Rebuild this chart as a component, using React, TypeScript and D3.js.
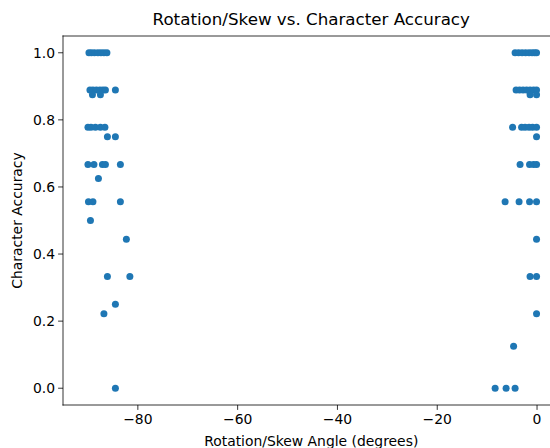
import * as d3 from "d3";

// accuracy levels and the skew angles measured at each one
const accuracyLevels = [1.0, 0.889, 0.875, 0.778, 0.75, 0.667, 0.625, 0.556, 0.5, 0.444, 0.333, 0.25, 0.222, 0.125, 0.0];
const anglesAtLevel = [
  [-89.8, -89.3, -88.7, -88.0, -87.4, -86.8, -86.2, -4.4, -3.7, -3.0, -2.3, -1.6, -1.0, -0.5, -0.1],
  [-89.6, -89.0, -88.3, -87.6, -87.0, -86.5, -84.5, -4.2, -3.5, -2.8, -2.1, -1.4, -0.7, -0.1],
  [-89.1, -87.5, -1.4, -0.1],
  [-90.0, -89.4, -88.5, -87.5, -86.6, -4.9, -3.1, -2.4, -1.6, -0.9, -0.1],
  [-86.1, -84.5, -0.1],
  [-90.0, -88.8, -87.1, -86.5, -83.5, -3.4, -1.5, -0.7, -0.1],
  [-87.9],
  [-89.9, -89.0, -83.5, -6.4, -3.6, -1.5, -0.1],
  [-89.5],
  [-82.3, -0.1],
  [-86.1, -81.6, -1.4, -0.1],
  [-84.5],
  [-86.8, -0.1],
  [-4.7],
  [-84.5, -8.4, -6.2, -4.4],
];
const xTicks = [-80, -60, -40, -20, 0];
const yTicks = [0.0, 0.2, 0.4, 0.6, 0.8, 1.0];

const W = 550;
const H = 448;
const margin = { left: 63, right: -9.5, top: 36, bottom: 43 };
const font = "'DejaVu Sans', sans-serif";
const fmtX = (v: number) => (v < 0 ? "\u2212" + Math.abs(v) : String(v));

export default function App() {
  const points = accuracyLevels.flatMap((acc, i) => anglesAtLevel[i].map((a) => ({ a, acc })));

  const x = d3.scaleLinear().domain([-95, 4.5]).range([margin.left, W - margin.right]);
  const y = d3.scaleLinear().domain([-0.05, 1.05]).range([H - margin.bottom, margin.top]);
  const [x0, x1] = x.range();
  const [y0, y1] = y.range();

  return (
    <div style={{ position: "fixed", left: 0, top: 0 }}>
      <svg width={W} height={H} style={{ display: "block", background: "#fff" }} fontFamily={font}>
        <text x={(x0 + x1) / 2} y={25} textAnchor="middle" fontSize={16.7} fill="#000">
          Rotation/Skew vs. Character Accuracy
        </text>

        {points.map((p, i) => (
          <circle key={i} cx={x(p.a)} cy={y(p.acc)} r={3.5} fill="#1f77b4" />
        ))}

        {/* spines: left, top, bottom (right one falls outside the crop) */}
        <g stroke="#000" strokeWidth={0.8} strokeLinecap="square">
          <line x1={x0} x2={x0} y1={y1} y2={y0} />
          <line x1={x0} x2={W} y1={y1} y2={y1} />
          <line x1={x0} x2={W} y1={y0} y2={y0} />
        </g>

        {xTicks.map((t) => (
          <g key={t} transform={`translate(${x(t)},${y0})`}>
            <line y2={4.9} stroke="#000" strokeWidth={0.8} />
            <text y={19} textAnchor="middle" fontSize={13.9} fill="#000">
              {fmtX(t)}
            </text>
          </g>
        ))}
        {yTicks.map((t) => (
          <g key={t} transform={`translate(${x0},${y(t)})`}>
            <line x2={-4.9} stroke="#000" strokeWidth={0.8} />
            <text x={-8} dy="0.35em" textAnchor="end" fontSize={13.9} fill="#000">
              {t.toFixed(1)}
            </text>
          </g>
        ))}

        <text x={(x0 + x1) / 2} y={446} textAnchor="middle" fontSize={13.9} fill="#000">
          Rotation/Skew Angle (degrees)
        </text>
        <text
          transform={`translate(22,${(y0 + y1) / 2}) rotate(-90)`}
          textAnchor="middle"
          fontSize={13.9}
          fill="#000"
        >
          Character Accuracy
        </text>
      </svg>
    </div>
  );
}
